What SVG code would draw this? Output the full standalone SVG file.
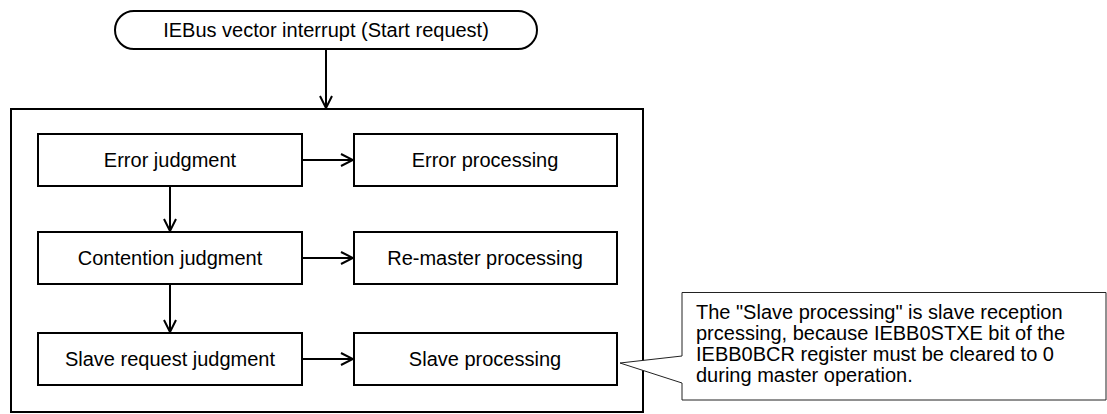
<svg xmlns="http://www.w3.org/2000/svg" width="1107" height="414" viewBox="0 0 1107 414">
<defs>
<style>
.box{fill:#fff;stroke:#000;stroke-width:2}
.t{font-family:"Liberation Sans",Arial,sans-serif;font-size:20px;fill:#000}
.c{text-anchor:middle}
.ln{stroke:#000;stroke-width:2;fill:none}
</style>
<marker id="ah" viewBox="0 0 14 14" refX="13" refY="7" markerWidth="14" markerHeight="14" markerUnits="userSpaceOnUse" orient="auto">
<path d="M1,1 L13,7 L1,13" fill="none" stroke="#000" stroke-width="2"/>
</marker>
</defs>
<rect width="1107" height="414" fill="#fff"/>
<g id="outer"><rect class="box" x="11" y="109" width="632" height="303"/></g>
<g id="start"><rect class="box" x="115" y="11" width="422" height="38" rx="19"/><text class="t c" x="326" y="37">IEBus vector interrupt (Start request)</text></g>
<g id="err-judg"><rect class="box" x="38" y="134" width="264" height="52"/><text class="t c" x="170" y="167">Error judgment</text></g>
<g id="err-proc"><rect class="box" x="354" y="134" width="263" height="52"/><text class="t c" x="485" y="167">Error processing</text></g>
<g id="cont-judg"><rect class="box" x="38" y="232" width="264" height="52"/><text class="t c" x="170" y="265">Contention judgment</text></g>
<g id="remaster"><rect class="box" x="354" y="232" width="263" height="52"/><text class="t c" x="485" y="265">Re-master processing</text></g>
<g id="slave-judg"><rect class="box" x="38" y="333" width="264" height="52"/><text class="t c" x="170" y="366">Slave request judgment</text></g>
<g id="slave-proc"><rect class="box" x="354" y="333" width="263" height="52"/><text class="t c" x="485" y="366">Slave processing</text></g>
<g id="connectors">
<line class="ln" x1="326" y1="49" x2="326" y2="108" marker-end="url(#ah)"/>
<line class="ln" x1="170" y1="186" x2="170" y2="231" marker-end="url(#ah)"/>
<line class="ln" x1="170" y1="284" x2="170" y2="332" marker-end="url(#ah)"/>
<line class="ln" x1="302" y1="160" x2="353" y2="160" marker-end="url(#ah)"/>
<line class="ln" x1="302" y1="258" x2="353" y2="258" marker-end="url(#ah)"/>
<line class="ln" x1="302" y1="359" x2="353" y2="359" marker-end="url(#ah)"/>
</g>
<g id="note">
<path d="M682,292.5 H1106 V400 H682 V383 L620,363 L682,356 Z" fill="#fff" stroke="#222" stroke-width="1"/>
<text class="t" x="696" y="319">The "Slave processing" is slave reception</text>
<text class="t" x="696" y="340">prcessing, because IEBB0STXE bit of the</text>
<text class="t" x="696" y="361">IEBB0BCR register must be cleared to 0</text>
<text class="t" x="696" y="382">during master operation.</text>
</g>
</svg>
